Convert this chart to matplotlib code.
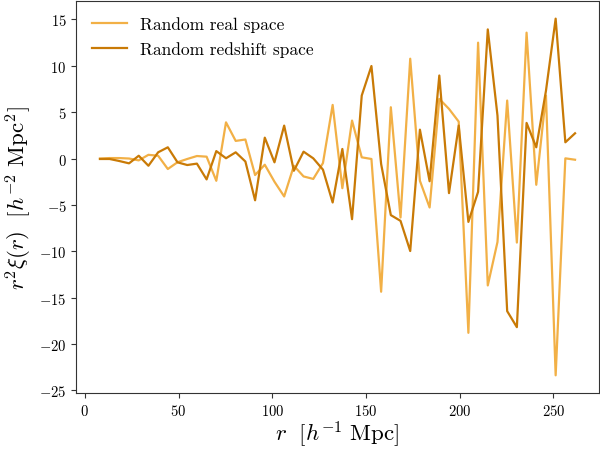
import numpy as np
import matplotlib
matplotlib.use('Agg')
import matplotlib.pyplot as plt

plt.rcParams['font.family'] = 'serif'
plt.rcParams['font.serif'] = ['cmr10', 'DejaVu Serif']
plt.rcParams['mathtext.fontset'] = 'cm'
plt.rcParams['axes.formatter.use_mathtext'] = True

# bin centres (Mpc/h)
r = np.linspace(8.1, 261.5, 50)

real_space = [0.0, 0.05, 0.05, 0.0, -0.2, 0.4, 0.3, -1.13, -0.4, -0.05,
              0.27, 0.2, -2.4, 3.9, 1.9, 2.05, -1.78, -0.67, -2.5, -4.09,
              -0.78, -1.93, -2.2, -0.49, 5.78, -3.2, 4.09, 0.13, -0.05, -14.36,
              5.53, -6.36, 10.76, -2.4, -5.28, 6.43, 5.35, 3.98, -18.79, 12.49,
              -13.68, -9.0, 6.25, -9.06, 13.57, -2.83, 6.79, -23.37, 0.02, -0.13]

redshift_space = [-0.05, -0.05, -0.27, -0.52, 0.3, -0.78, 0.67, 1.21, -0.41, -0.7,
                  -0.55, -2.25, 0.8, 0.03, 0.67, -0.32, -4.5, 2.25, -0.41, 3.55,
                  -1.32, 0.74, 0.02, -1.2, -4.74, 1.03, -6.54, 6.79, 9.97, -0.59,
                  -6.1, -6.72, -9.97, 3.11, -2.45, 8.95, -3.73, 3.55, -6.83, -3.59,
                  13.92, 4.63, -16.45, -18.18, 3.84, 1.21, 7.3, 15.08, 1.75, 2.72]

fig = plt.figure(figsize=(6.0, 4.52), dpi=100)
ax = fig.add_axes([0.127, 0.128, 0.871, 0.868])

ax.plot(r, real_space, color='#f2b046', lw=1.6, label='Random real space')
ax.plot(r, redshift_space, color='#c97a06', lw=1.6, label='Random redshift space')

ax.set_xlabel(r'$r\ \ [h^{-1}\ \mathrm{Mpc}]$', fontsize=16.5, labelpad=1)
ax.set_ylabel(r'$r^2\xi(r)\ \ [h^{-2}\ \mathrm{Mpc}^2]$', fontsize=16.5)
ax.set_xticks([0, 50, 100, 150, 200, 250])
ax.set_yticks([-25, -20, -15, -10, -5, 0, 5, 10, 15])
ax.tick_params(labelsize=10.5, color='#333333')
for s in ax.spines.values():
    s.set_color('#333333')

ax.legend(loc='upper left', frameon=False, fontsize=12.5)

plt.savefig('out.png', dpi=100)
plt.close()
